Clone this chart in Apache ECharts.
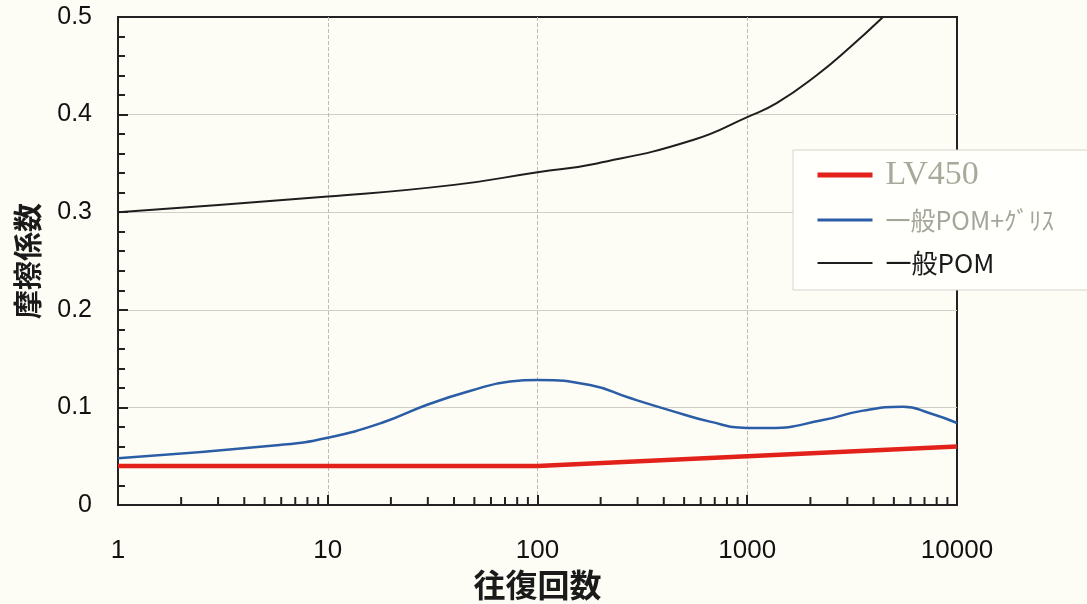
<!DOCTYPE html>
<html><head><meta charset="utf-8">
<script src="https://cdn.jsdelivr.net/npm/echarts@6/dist/echarts.min.js"></script>
<style>html,body{margin:0;padding:0;background:#fdfdf6}#c{width:1087px;height:604px}</style>
</head><body><div id="c"></div>
<script>
const seriesNames = ['LV450', '一般POM+ｸﾞﾘｽ', '一般POM'];
const xTicks = [1, 10, 100, 1000, 10000];
const yTicks = [0, 0.1, 0.2, 0.3, 0.4, 0.5];
const lv450 = [[1, 0.040], [100, 0.040], [1000, 0.050], [10000, 0.060]];
const pomGrease = [[1, 0.048], [5.9, 0.0615], [10, 0.069], [18, 0.084], [30, 0.103], [48, 0.117], [74, 0.1265], [100, 0.128], [178, 0.123], [276, 0.1096], [428, 0.097], [664, 0.0854], [1000, 0.079], [1283, 0.079], [2296, 0.087], [3563, 0.0967], [5530, 0.1007], [7430, 0.094], [10000, 0.084]];
const pom = [[1, 0.300], [10, 0.316], [40, 0.328], [100, 0.341], [192, 0.350], [551, 0.374], [1000, 0.3975], [1387, 0.412], [2150, 0.4406], [3090, 0.469], [4440, 0.5]];
const xMinorTicks = [2, 3, 4, 5, 6, 7, 8, 9, 20, 30, 40, 50, 60, 70, 80, 90, 200, 300, 400, 500, 600, 700, 800, 900, 2000, 3000, 4000, 5000, 6000, 7000, 8000, 9000];

const chart = echarts.init(document.getElementById('c'));
const labelFont = {fontFamily: 'Liberation Sans', fontSize: 25, color: '#111'};
chart.setOption({
  backgroundColor: '#fdfdf6',
  animation: false,
  grid: {left: 118, right: 130, top: 17, bottom: 99, outerBoundsMode: 'none', containLabel: false,
         show: true, borderColor: '#222', borderWidth: 2, backgroundColor: 'transparent'},
  xAxis: {
    type: 'log', logBase: 10, min: xTicks[0], max: xTicks[xTicks.length - 1],
    name: '往復回数', nameLocation: 'middle', nameGap: 64,
    nameTextStyle: {fontFamily: 'Noto Sans CJK JP', fontSize: 32, fontWeight: 'bold', color: '#1a1a1a'},
    axisLine: {lineStyle: {color: '#222', width: 2}},
    axisTick: {inside: true, length: 10, lineStyle: {color: '#222', width: 2}},
    axisLabel: Object.assign({margin: 33, formatter: v => String(Math.round(v))}, labelFont, {fontSize: 26}),
    splitLine: {show: true, showMinLine: false, showMaxLine: false, lineStyle: {color: '#bdbdb5', type: 'dashed', width: 1}}
  },
  yAxis: {
    type: 'value', min: yTicks[0], max: yTicks[yTicks.length - 1], interval: 0.1,
    name: '摩擦係数', nameLocation: 'middle', nameGap: 76, nameRotate: 90,
    nameTextStyle: {fontFamily: 'Noto Sans CJK JP', fontSize: 29, fontWeight: 'bold', color: '#1a1a1a'},
    axisLine: {show: true, lineStyle: {color: '#222', width: 2}},
    axisTick: {inside: true, length: 10, lineStyle: {color: '#222', width: 2}},
    minorTick: {show: true, splitNumber: 5, length: 7, lineStyle: {color: '#222', width: 2}},
    axisLabel: Object.assign({margin: 26, formatter: v => String(Math.round(v * 10) / 10)}, labelFont),
    splitLine: {show: true, showMinLine: false, showMaxLine: false, lineStyle: {color: '#cfcfc8', width: 1}}
  },
  legend: {
    orient: 'vertical', left: 793, top: 150,
    padding: [8, 40, 12, 22], itemGap: 13, itemWidth: 55, itemHeight: 14,
    backgroundColor: '#fffffb', borderColor: '#d6d6cf', borderWidth: 1,
    itemStyle: {opacity: 0},
    data: [
      {name: seriesNames[0], lineStyle: {width: 5, color: '#e3211b'}, textStyle: {fontFamily: 'Liberation Serif', fontSize: 34, color: '#a9a99b', lineHeight: 30, padding: [0, 0, 0, 8]}},
      {name: seriesNames[1], lineStyle: {width: 3, color: '#2b5da6'}, textStyle: {fontFamily: 'Noto Sans CJK JP', fontSize: 25, color: '#a5a59a', lineHeight: 30, padding: [0, 0, 0, 8]}},
      {name: seriesNames[2], lineStyle: {width: 2, color: '#1e1e1e'}, textStyle: {fontFamily: 'Noto Sans CJK JP', fontSize: 26, color: '#1a1a1a', lineHeight: 30, padding: [0, 0, 0, 8]}}
    ]
  },
  series: [
    {name: seriesNames[0], type: 'line', data: lv450, symbol: 'none', smooth: false,
     lineStyle: {color: '#e3211b', width: 4.5}, itemStyle: {color: '#e3211b'}, z: 5},
    {name: seriesNames[1], type: 'line', data: pomGrease, symbol: 'none', smooth: 0.5,
     lineStyle: {color: '#2b5da6', width: 2.5}, itemStyle: {color: '#2b5da6'}, z: 4},
    {name: seriesNames[2], type: 'line', data: pom, symbol: 'none', smooth: 0.5, clip: true,
     lineStyle: {color: '#1e1e1e', width: 2}, itemStyle: {color: '#1e1e1e'}, z: 3},
    {name: 'minor', type: 'custom', silent: true, z: 6,
     data: xMinorTicks.map(v => [v, 0]),
     renderItem: (params, api) => {
       const p = api.coord([api.value(0), api.value(1)]);
       return {type: 'line', shape: {x1: p[0], y1: p[1], x2: p[0], y2: p[1] - 8}, style: {stroke: '#222', lineWidth: 2}};
     }}
  ]
});
</script></body></html>
